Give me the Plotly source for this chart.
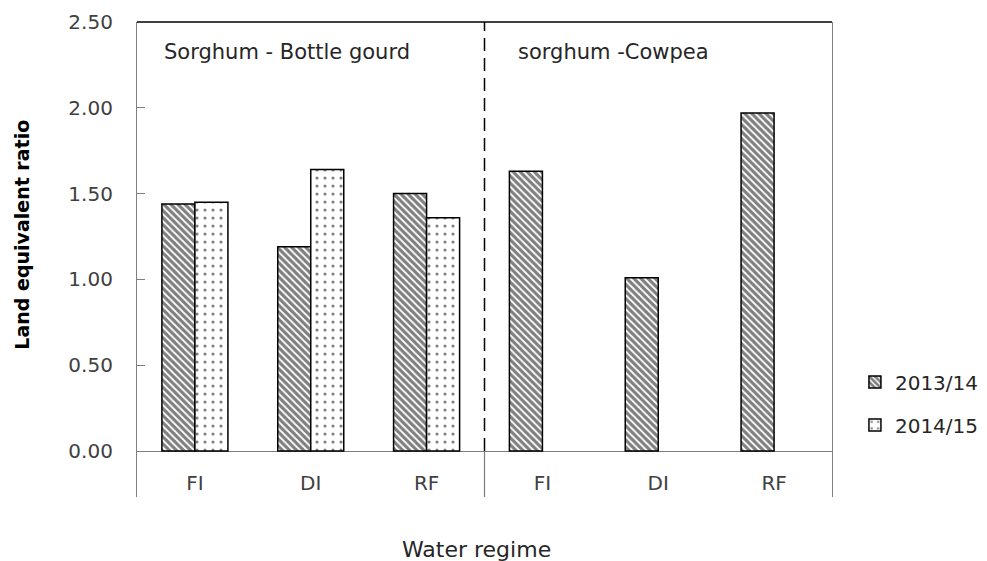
import plotly.graph_objects as go

categories = ["FI", "DI", "RF", "FI", "DI", "RF"]
x_pos = [0, 1, 2, 3, 4, 5]
ler_2013 = [1.44, 1.19, 1.50, 1.63, 1.01, 1.97]
ler_2014 = [1.45, 1.64, 1.36, None, None, None]
series_names = ["2013/14", "2014/15"]
group_labels = ["Sorghum - Bottle gourd", "sorghum -Cowpea"]
y_ticks = [0, 0.5, 1.0, 1.5, 2.0, 2.5]
y_min, y_max = -0.268, 2.5
divider_x = 2.5

fig = go.Figure()
fig.add_trace(go.Bar(
    x=x_pos, y=ler_2013, name=series_names[0], legendgroup="a",
    marker=dict(color="white", line=dict(color="black", width=1.5),
                pattern=dict(shape="\\", fgcolor="black", bgcolor="white", size=5, solidity=0.65)),
))
fig.add_trace(go.Bar(
    x=x_pos, y=ler_2014, name=series_names[1], legendgroup="b",
    marker=dict(color="white", line=dict(color="black", width=1.5),
                pattern=dict(shape=".", fgcolor="black", bgcolor="white", size=8, solidity=0.12)),
))

font_main = "DejaVu Sans"
fig.update_layout(
    width=987, height=561,
    margin=dict(l=137, r=155, t=22, b=64, autoexpand=False),
    paper_bgcolor="white", plot_bgcolor="white",
    barmode="group", bargap=0.43, bargroupgap=0,
    showlegend=True,
    legend=dict(x=1.033, y=0.283, xanchor="left", yanchor="top",
                font=dict(family=font_main, size=20, color="#262626"),
                tracegroupgap=14, traceorder="grouped", bgcolor="rgba(0,0,0,0)"),
    xaxis=dict(range=[-0.5, 5.5], tickvals=x_pos, ticktext=categories,
               showgrid=False, zeroline=False, showline=False, ticks="",
               ticklabelposition="inside", automargin=False,
               tickfont=dict(family=font_main, size=20, color="#404040")),
    yaxis=dict(range=[y_min, y_max], tickvals=y_ticks, tickformat=".2f",
               showgrid=False, zeroline=True, zerolinecolor="#7f7f7f", zerolinewidth=1.2,
               showline=True, linecolor="#7f7f7f", linewidth=1.2, mirror=True,
               ticks="inside", ticklen=8, tickcolor="#7f7f7f", automargin=False,
               ticklabelstandoff=19,
               tickfont=dict(family=font_main, size=20, color="#404040")),
)

# top border
fig.add_shape(type="line", xref="paper", yref="paper", x0=0, x1=1, y0=1, y1=1,
              line=dict(color="black", width=1.5))
# group divider: dashed above zero, solid below
fig.add_shape(type="line", xref="x", yref="y", x0=divider_x, x1=divider_x, y0=0, y1=y_max,
              line=dict(color="black", width=1.5, dash="13px,7px"))
fig.add_shape(type="line", xref="x", yref="y", x0=divider_x, x1=divider_x, y0=y_min, y1=0,
              line=dict(color="#7f7f7f", width=1.2))

fig.add_annotation(text=group_labels[0], xref="paper", yref="paper", x=0.036, y=0.937,
                   xanchor="left", yanchor="middle", showarrow=False,
                   font=dict(family=font_main, size=21, color="#262626"))
fig.add_annotation(text=group_labels[1], xref="paper", yref="paper", x=0.546, y=0.937,
                   xanchor="left", yanchor="middle", showarrow=False,
                   font=dict(family=font_main, size=21, color="#262626"))
fig.add_annotation(text="<b>Land equivalent ratio</b>", xref="paper", yref="paper",
                   x=-0.165, y=0.553, textangle=-90, showarrow=False,
                   xanchor="center", yanchor="middle",
                   font=dict(family=font_main, size=19, color="black"))
fig.add_annotation(text="Water regime", xref="paper", yref="paper",
                   x=0.489, y=-0.111, showarrow=False, xanchor="center", yanchor="middle",
                   font=dict(family=font_main, size=22, color="#262626"))

fig.write_html("out.html", config={"displayModeBar": False},
               post_script="document.body.style.margin='0px';")
